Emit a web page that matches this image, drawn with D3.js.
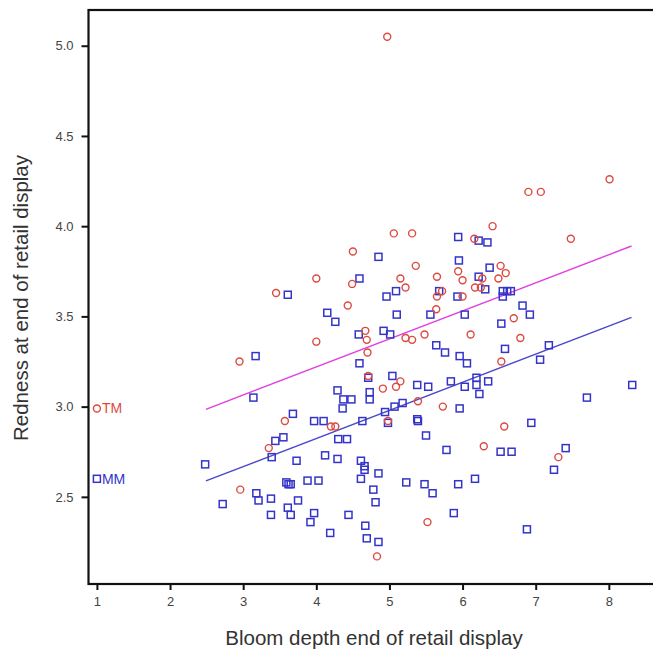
<!DOCTYPE html>
<html>
<head>
<meta charset="utf-8">
<script src="https://cdn.jsdelivr.net/npm/d3@7"></script>
<style>
  html, body { margin: 0; padding: 0; background: #fff; }
  svg { display: block; font-family: Arial, "Liberation Sans", Helvetica, sans-serif; }
</style>
</head>
<body>
<svg id="chart" width="653" height="651"></svg>
<script>
// ---- Data ----
const xTicks = [1, 2, 3, 4, 5, 6, 7, 8];
const yTicks = [2.5, 3.0, 3.5, 4.0, 4.5, 5.0];

// TM group (red circles)
const tmX = [4.97, 8.01, 6.90, 7.07, 7.48, 6.41, 5.06, 5.31, 6.16, 4.50,
             5.36, 6.52, 4.00, 5.15, 5.65, 5.94, 6.59, 6.49, 6.27, 4.49,
             3.45, 5.22, 6.00, 6.17, 6.25, 5.65, 5.72, 6.00, 4.43, 5.64,
             6.70, 4.67, 5.48, 6.11, 5.22, 5.31, 6.79, 4.00, 4.69, 4.70,
             2.95, 6.53, 4.71, 4.91, 5.09, 5.15, 5.39, 5.73, 4.98, 3.57,
             6.57, 4.20, 4.26, 3.35, 6.29, 7.31, 2.96, 5.52, 4.83];
const tmY = [5.05, 4.26, 4.19, 4.19, 3.93, 4.00, 3.96, 3.96, 3.93, 3.86,
             3.78, 3.78, 3.71, 3.71, 3.72, 3.75, 3.74, 3.71, 3.71, 3.68,
             3.63, 3.66, 3.70, 3.66, 3.66, 3.61, 3.64, 3.61, 3.56, 3.54,
             3.49, 3.42, 3.40, 3.40, 3.38, 3.37, 3.38, 3.36, 3.37, 3.30,
             3.25, 3.25, 3.17, 3.10, 3.11, 3.14, 3.03, 3.00, 2.92, 2.92,
             2.89, 2.89, 2.89, 2.77, 2.78, 2.72, 2.54, 2.36, 2.17];

// MM group (blue squares)
const mmX = [5.94, 6.22, 6.34, 4.85, 5.95, 6.37, 4.59, 6.22, 5.09, 4.96,
             3.61, 5.68, 5.93, 6.31, 6.55, 6.61, 6.66, 6.55, 4.15, 4.26,
             5.10, 5.56, 6.03, 6.82, 6.92, 6.53, 4.58, 4.92, 5.01, 5.64,
             5.76, 6.58, 7.18, 3.17, 5.96, 6.06, 7.06, 4.59, 5.04, 4.71,
             5.84, 6.19, 6.35, 6.19, 5.38, 5.53, 6.03, 8.32, 3.14, 4.29,
             4.73, 4.73, 4.37, 4.48, 6.23, 7.70, 5.18, 5.07, 4.36, 5.96,
             3.68, 4.94, 5.38, 5.39, 4.98, 3.97, 4.10, 4.63, 6.94, 5.50,
             3.44, 3.55, 4.30, 4.42, 5.78, 6.52, 6.67, 7.41, 3.39, 4.12,
             4.29, 3.73, 2.48, 4.61, 4.66, 4.66, 7.25, 4.85, 6.17, 4.61,
             3.88, 4.03, 3.59, 3.62, 3.65, 5.23, 5.48, 5.94, 3.18, 3.21,
             3.38, 3.75, 2.72, 4.78, 5.59, 3.61, 3.65, 3.38, 3.97, 3.92,
             4.44, 4.81, 4.67, 4.19, 4.69, 4.85, 5.88, 6.88];
const mmY = [3.94, 3.92, 3.91, 3.83, 3.81, 3.77, 3.71, 3.72, 3.64, 3.61,
             3.62, 3.64, 3.61, 3.65, 3.64, 3.64, 3.64, 3.61, 3.52, 3.47,
             3.51, 3.51, 3.51, 3.56, 3.51, 3.46, 3.40, 3.42, 3.40, 3.34,
             3.30, 3.32, 3.34, 3.28, 3.28, 3.24, 3.26, 3.24, 3.17, 3.16,
             3.14, 3.16, 3.14, 3.12, 3.12, 3.11, 3.11, 3.12, 3.05, 3.09,
             3.08, 3.04, 3.04, 3.04, 3.07, 3.05, 3.02, 3.00, 2.99, 2.99,
             2.96, 2.97, 2.93, 2.92, 2.91, 2.92, 2.92, 2.92, 2.91, 2.84,
             2.81, 2.83, 2.82, 2.82, 2.76, 2.75, 2.75, 2.77, 2.72, 2.73,
             2.71, 2.70, 2.68, 2.70, 2.67, 2.65, 2.65, 2.63, 2.60, 2.60,
             2.59, 2.59, 2.58, 2.57, 2.57, 2.58, 2.57, 2.57, 2.52, 2.48,
             2.49, 2.48, 2.46, 2.54, 2.52, 2.44, 2.40, 2.40, 2.41, 2.36,
             2.40, 2.47, 2.34, 2.30, 2.27, 2.25, 2.41, 2.32];

// Fit lines (end points)
const fitX = [2.49, 8.31];
const tmFitY = [2.985, 3.89];
const mmFitY = [2.588, 3.495];

// Legend labels placed inside the plot at x = 1
const legendNames = ["TM", "MM"];
const legendX = [1.0, 1.0];
const legendY = [2.99, 2.60];

// ---- Styles ----
const red = "#dc4a40";
const blue = "#3434c8";
const magenta = "#e040e0";
const lineBlue = "#4848cc";

// ---- Layout ----
const svg = d3.select("#chart");
const plot = { left: 88.5, top: 10, right: 665, bottom: 584 };

const x = d3.scaleLinear().domain([0.885, 8.768]).range([plot.left, plot.right]);
const y = d3.scaleLinear().domain([2.017, 5.198]).range([plot.bottom, plot.top]);

// Axes
const xAxis = d3.axisBottom(x).tickValues(xTicks).tickFormat(d3.format("d")).tickSize(6).tickPadding(7);
const yAxis = d3.axisLeft(y).tickValues(yTicks).tickFormat(d3.format(".1f")).tickSize(7).tickPadding(8);

const gx = svg.append("g").attr("transform", `translate(0,${plot.bottom})`).call(xAxis);
const gy = svg.append("g").attr("transform", `translate(${plot.left},0)`).call(yAxis);
[gx, gy].forEach(g => {
  g.select(".domain").remove();
  g.selectAll(".tick line").attr("stroke", "#111").attr("stroke-width", 2);
  g.selectAll(".tick text").attr("fill", "#444").style("font-size", "13px");
});

// Frame
svg.append("rect")
  .attr("x", plot.left).attr("y", plot.top)
  .attr("width", plot.right - plot.left).attr("height", plot.bottom - plot.top)
  .attr("fill", "none").attr("stroke", "#111").attr("stroke-width", 2.2);

// Axis titles
svg.append("text")
  .attr("x", 374).attr("y", 645)
  .attr("text-anchor", "middle")
  .attr("fill", "#333")
  .style("font-size", "20.5px")
  .text("Bloom depth end of retail display");

svg.append("text")
  .attr("transform", "translate(28,298) rotate(-90)")
  .attr("text-anchor", "middle")
  .attr("fill", "#333")
  .style("font-size", "20.5px")
  .text("Redness at end of retail display");

// Fit lines
const line = d3.line().x(d => x(d[0])).y(d => y(d[1]));
svg.append("path").datum(d3.zip(fitX, tmFitY))
  .attr("d", line).attr("fill", "none").attr("stroke", magenta).attr("stroke-width", 1.4);
svg.append("path").datum(d3.zip(fitX, mmFitY))
  .attr("d", line).attr("fill", "none").attr("stroke", lineBlue).attr("stroke-width", 1.4);

// MM squares
const sq = 7;
svg.append("g").selectAll("rect")
  .data(d3.zip(mmX, mmY))
  .join("rect")
  .attr("x", d => x(d[0]) - sq / 2)
  .attr("y", d => y(d[1]) - sq / 2)
  .attr("width", sq).attr("height", sq)
  .attr("fill", "none").attr("stroke", blue).attr("stroke-width", 1.5);

// TM circles
svg.append("g").selectAll("circle")
  .data(d3.zip(tmX, tmY))
  .join("circle")
  .attr("cx", d => x(d[0]))
  .attr("cy", d => y(d[1]))
  .attr("r", 3.5)
  .attr("fill", "none").attr("stroke", red).attr("stroke-width", 1.4);

// Legend-like labels at x = 1
const lg = svg.append("g");
legendNames.forEach((name, i) => {
  const cx = x(legendX[i]), cy = y(legendY[i]);
  const col = i === 0 ? red : blue;
  if (i === 0) {
    lg.append("circle").attr("cx", cx).attr("cy", cy).attr("r", 3.5)
      .attr("fill", "none").attr("stroke", col).attr("stroke-width", 1.4);
  } else {
    lg.append("rect").attr("x", cx - sq / 2).attr("y", cy - sq / 2)
      .attr("width", sq).attr("height", sq)
      .attr("fill", "none").attr("stroke", col).attr("stroke-width", 1.5);
  }
  lg.append("text").attr("x", cx + 5).attr("y", cy + 5)
    .attr("fill", col).style("font-size", "14px").text(name);
});
</script>
</body>
</html>
